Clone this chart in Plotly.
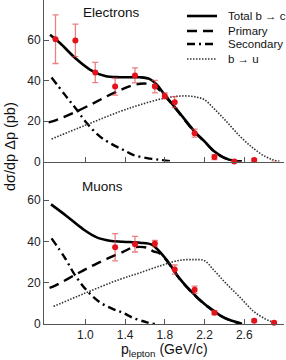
import plotly.graph_objects as go

# ---------------- data ----------------
# Electrons: measured points
e_p = [0.7, 0.9, 1.1, 1.3, 1.5, 1.7, 1.8, 1.9, 2.1, 2.3, 2.5, 2.7, 2.9]
e_val = [60.4, 59.8, 44.0, 37.0, 42.5, 37.0, 32.4, 29.3, 14.0, 2.2, 0.0, 0.8, -0.5]
e_err = [12.0, 8.0, 5.0, 4.2, 3.7, 3.1, 1.5, 2.7, 2.0, 1.2, 0.6, 0.6, 0.6]

# Electrons: model curves
e_total_p = [0.645, 0.745, 0.9, 1.05, 1.2, 1.35, 1.55, 1.65, 1.72, 1.8, 1.95, 2.1, 2.2, 2.3, 2.4, 2.5, 2.575]
e_total_v = [62.6, 58.5, 51.0, 45.3, 42.2, 41.6, 41.6, 40.7, 37.9, 32.9, 23.9, 14.8, 9.9, 4.9, 1.8, 0.3, 0.0]
e_prim_p = [0.63, 0.7, 0.88, 1.05, 1.2, 1.35, 1.45, 1.55, 1.65, 1.72, 1.8, 1.95, 2.1, 2.2, 2.3, 2.4, 2.5, 2.575]
e_prim_v = [19.3, 20.3, 24.0, 28.0, 31.8, 35.2, 37.2, 38.4, 38.2, 36.4, 32.4, 23.6, 14.6, 9.8, 4.8, 1.8, 0.3, 0.0]
e_sec_p = [0.66, 0.795, 0.9, 1.014, 1.148, 1.28, 1.38, 1.48, 1.62, 1.75, 1.87]
e_sec_v = [41.5, 32.9, 26.4, 19.0, 12.3, 8.2, 5.8, 3.3, 1.7, 0.8, 0.0]
e_bu_p = [0.66, 1.0, 1.35, 1.55, 1.8, 1.99, 2.12, 2.2, 2.29, 2.42, 2.56, 2.69, 2.81, 2.89, 2.96]
e_bu_v = [11.1, 17.9, 24.7, 28.0, 31.3, 32.4, 31.8, 30.5, 26.4, 19.8, 12.3, 6.6, 2.5, 0.8, 0.0]

# Muons: measured points
m_p = [1.3, 1.5, 1.7, 1.9, 2.1, 2.3, 2.5, 2.7, 2.9]
m_val = [37.2, 38.7, 39.0, 26.4, 16.6, 5.5, -1.5, 1.6, 0.6]
m_err = [6.6, 3.8, 1.5, 2.2, 1.8, 1.0, 0.6, 0.6, 0.6]

# Muons: model curves
m_total_p = [0.655, 0.81, 0.98, 1.115, 1.245, 1.38, 1.55, 1.67, 1.73, 1.82, 1.95, 2.09, 2.2, 2.255, 2.36, 2.46, 2.56, 2.575]
m_total_v = [58.0, 52.4, 45.9, 42.0, 40.4, 39.9, 39.4, 38.5, 36.0, 31.0, 22.0, 14.6, 9.7, 7.7, 4.1, 1.8, 0.4, 0.0]
m_prim_p = [0.64, 0.68, 0.9, 1.115, 1.38, 1.48, 1.62, 1.685, 1.75, 1.82, 1.95, 2.09, 2.2, 2.36, 2.46, 2.575]
m_prim_v = [17.5, 18.2, 23.9, 29.3, 35.0, 37.1, 37.0, 35.2, 34.2, 30.7, 21.8, 14.4, 9.6, 4.0, 1.7, 0.0]
m_sec_p = [0.66, 0.795, 0.896, 1.014, 1.148, 1.28, 1.38, 1.48, 1.62, 1.70]
m_sec_v = [41.5, 32.0, 23.7, 16.3, 10.5, 7.2, 5.4, 3.0, 0.8, 0.0]
m_bu_p = [0.68, 1.0, 1.35, 1.55, 1.78, 1.95, 2.09, 2.2, 2.29, 2.42, 2.56, 2.69, 2.81, 2.88, 2.93]
m_bu_v = [8.5, 15.0, 21.7, 24.8, 28.6, 30.9, 31.2, 30.7, 26.3, 19.5, 12.8, 6.3, 2.5, 1.0, 0.0]

x_ticks = [1.0, 1.4, 1.8, 2.2, 2.6]
x_tick_text = ["1.0", "1.4", "1.8", "2.2", "2.6"]
y_ticks = [0, 20, 40, 60]
legend_names = ["Total b \u2192 c", "Primary", "Secondary", "b \u2192 u"]

# ---------------- styles ----------------
FONT = "Liberation Sans, Arial, Helvetica, sans-serif"
AX = "#555555"
RED = "#e3121b"
ERRC = "rgba(226,60,60,0.65)"
styles = [
    dict(color="black", width=2.6, dash="solid"),
    dict(color="black", width=2.4, dash="10px,6px"),
    dict(color="black", width=2.4, dash="8px,4px,2px,4px"),
    dict(color="#333333", width=1.6, dash="1.5px,1.5px"),
]

fig = go.Figure()

panels = [
    ("x", "y", e_p, e_val, e_err,
     [(e_total_p, e_total_v), (e_prim_p, e_prim_v), (e_sec_p, e_sec_v), (e_bu_p, e_bu_v)]),
    ("x2", "y2", m_p, m_val, m_err,
     [(m_total_p, m_total_v), (m_prim_p, m_prim_v), (m_sec_p, m_sec_v), (m_bu_p, m_bu_v)]),
]

for xa, ya, px, pv, pe, curves in panels:
    for (cx, cy), st, name in zip(curves, styles, legend_names):
        fig.add_trace(go.Scatter(x=cx, y=cy, mode="lines", name=name, showlegend=False,
                                 line=dict(shape="spline", smoothing=1.0, **st),
                                 xaxis=xa, yaxis=ya))
    fig.add_trace(go.Scatter(x=px, y=pv, mode="markers", showlegend=False,
                             marker=dict(color=RED, size=6),
                             error_y=dict(type="data", array=pe, color=ERRC, thickness=1.3, width=3),
                             cliponaxis=False, xaxis=xa, yaxis=ya))

PH = 324.0  # plot-area height in px
common_x = dict(range=[0.584, 3.0], showgrid=False, zeroline=False, showline=True,
                linecolor=AX, linewidth=1, ticks="inside", ticklen=5, tickcolor=AX,
                tickvals=x_ticks, ticktext=x_tick_text,
                tickfont=dict(family=FONT, size=12, color="#222"))
common_y = dict(showgrid=False, zeroline=False, showline=True, linecolor=AX, linewidth=1,
                ticks="inside", ticklen=5, tickcolor=AX, tickvals=y_ticks,
                tickfont=dict(family=FONT, size=12, color="#222"))

split = (PH - 161.5) / PH
fig.update_layout(
    width=286, height=360,
    margin=dict(l=44, r=2, t=0, b=36),
    paper_bgcolor="white", plot_bgcolor="white",
    showlegend=False,
    xaxis=dict(**common_x, anchor="y", showticklabels=False, matches="x2"),
    xaxis2=dict(**common_x, anchor="y2"),
    yaxis=dict(**common_y, domain=[split, 1.0], range=[0, 161.5 / 2.025], anchor="x"),
    yaxis2=dict(**common_y, domain=[0.0, split], range=[0, 161.5 / 2.05], anchor="x2"),
)

def px2paper(xp, yp):
    return (xp - 44) / 240.0, (PH - yp) / PH

# legend (drawn manually for compact spacing)
rows_y = [16, 31, 44, 59]
for st, name, ry in zip(styles, legend_names, rows_y):
    x0, y0 = px2paper(187, ry)
    x1, _ = px2paper(217, ry)
    fig.add_shape(type="line", xref="paper", yref="paper", x0=x0, x1=x1, y0=y0, y1=y0,
                  line=dict(color=st["color"], width=st["width"], dash=st["dash"]))
    tx, ty = px2paper(226, ry)
    fig.add_annotation(xref="paper", yref="paper", x=tx, y=ty, text=name, showarrow=False,
                       xanchor="left", yanchor="middle",
                       font=dict(family=FONT, size=11.5, color="#111"))

ax_, ay_ = px2paper(111, 12)
fig.add_annotation(xref="paper", yref="paper", x=ax_, y=ay_, text="Electrons", showarrow=False,
                   xanchor="center", yanchor="middle", font=dict(family=FONT, size=13.5, color="#111"))
ax_, ay_ = px2paper(102, 186)
fig.add_annotation(xref="paper", yref="paper", x=ax_, y=ay_, text="Muons", showarrow=False,
                   xanchor="center", yanchor="middle", font=dict(family=FONT, size=13.5, color="#111"))

ax_, ay_ = px2paper(10, 147)
fig.add_annotation(xref="paper", yref="paper", x=ax_, y=ay_, text="d\u03c3/dp \u0394p (pb)",
                   textangle=-90, showarrow=False, xanchor="center", yanchor="middle",
                   font=dict(family=FONT, size=14.5, color="#111"))
ax_, ay_ = px2paper(164, 350)
fig.add_annotation(xref="paper", yref="paper", x=ax_, y=ay_, text="p<sub>lepton</sub> (GeV/c)",
                   showarrow=False, xanchor="center", yanchor="middle",
                   font=dict(family=FONT, size=14, color="#111"))

fig.write_html("out.html", config={"displayModeBar": False},
               post_script="document.body.style.margin='0';document.body.style.overflow='hidden';")
